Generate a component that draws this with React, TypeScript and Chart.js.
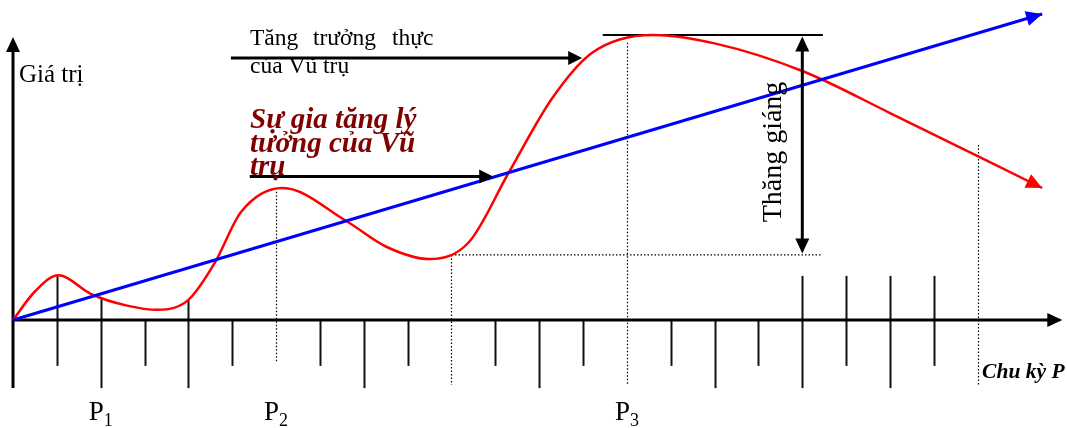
import { useEffect, useRef } from "react";
import { Chart, registerables } from "chart.js";

Chart.register(...registerables);

// Periods along the horizontal axis, one tick each.
const periods = [0, 1, 2, 3, 4, 5, 6, 7, 8, 9, 10, 11, 12, 13, 14, 15, 16, 17, 18, 19, 20, 21, 22];
const tickKinds = [
  "axis", "short", "long", "short", "long", "short", "dotted-short", "short",
  "long", "short", "dotted-long", "short", "long", "short", "dotted-long", "short",
  "long", "short", "long", "short", "long", "short", "dotted-long",
];
// Ticks that rise to the real-growth curve, and the upper cluster on the right.
const curveTicks = [1, 2, 4, 6, 14];
const upperTicks = [18, 19, 20, 21];
const upperTickValue = 14.7;
const lastGuideTop = 58.3;

// Period labels under the axis.
const periodLabels = [
  { k: 2, sub: "1" },
  { k: 6, sub: "2" },
  { k: 14, sub: "3" },
];

// Real growth of the universe (red curve).
const realPeriod = [
  0, 0.5, 1.03, 1.8, 2.6, 3.3, 4, 4.6, 5.2, 6.15, 7.6, 8.5, 9.5,
  10.4, 11.3, 12.3, 13.2, 14.6, 16, 18, 20, 23.47,
];
const realValue = [
  0, 9.5, 14.9, 8.5, 4.8, 3.4, 6.7, 19, 36, 44, 33, 24.5, 20.3,
  26, 49, 74, 89, 95, 92.2, 83, 69, 44,
];

// Ideal growth of the universe (blue line).
const idealPeriod = [0, 23.47];
const idealValue = [0, 102];

// Fluctuation band: crest of the real curve and the trough it is measured from.
const crestValue = 95;
const troughValue = 21.7;
const troughPeriod = 10;
const crestSpan = [13.45, 18.47];
const troughSpan = [10, 18.43];
const fluctuationPeriod = 18;

// Annotation arrows.
const realArrow = { from: 4.97, to: 12.98, v: 87.3 };
const idealArrow = { from: 5.4, to: 10.95, v: 47.8 };

const SERIF = '"Liberation Serif", "Times New Roman", serif';

// Value of the red curve at a period, read linearly between its points.
function curveAt(k: number): number {
  for (let i = 1; i < realPeriod.length; i++) {
    if (k <= realPeriod[i]) {
      const t = (k - realPeriod[i - 1]) / (realPeriod[i] - realPeriod[i - 1]);
      return realValue[i - 1] + t * (realValue[i] - realValue[i - 1]);
    }
  }
  return realValue[realValue.length - 1];
}

function arrowHead(ctx: CanvasRenderingContext2D, tx: number, ty: number, fx: number, fy: number, len: number, half: number, color: string) {
  const a = Math.atan2(ty - fy, tx - fx);
  ctx.save();
  ctx.fillStyle = color;
  ctx.translate(tx, ty);
  ctx.rotate(a);
  ctx.beginPath();
  ctx.moveTo(0, 0);
  ctx.lineTo(-len, -half);
  ctx.lineTo(-len, half);
  ctx.closePath();
  ctx.fill();
  ctx.restore();
}

function line(ctx: CanvasRenderingContext2D, x1: number, y1: number, x2: number, y2: number, width: number, color = "#000", dash: number[] = []) {
  ctx.save();
  ctx.strokeStyle = color;
  ctx.lineWidth = width;
  ctx.setLineDash(dash);
  ctx.beginPath();
  ctx.moveTo(x1, y1);
  ctx.lineTo(x2, y2);
  ctx.stroke();
  ctx.restore();
}

const diagramPlugin = {
  id: "diagram",
  beforeDatasetsDraw(chart: any) {
    const ctx: CanvasRenderingContext2D = chart.ctx;
    const X = (k: number) => chart.scales.x.getPixelForValue(k);
    const Y = (v: number) => chart.scales.y.getPixelForValue(v);
    const shortEnd = -15.3;
    const longEnd = -22.7;

    // Ticks
    periods.forEach((k, i) => {
      const kind = tickKinds[i];
      if (kind === "axis") return;
      const dotted = kind.startsWith("dotted");
      const long = kind.endsWith("long");
      let top = 0;
      if (curveTicks.includes(k)) top = curveAt(k);
      else if (k === troughPeriod) top = troughValue;
      else if (upperTicks.includes(k)) top = upperTickValue;
      else if (k === 22) top = lastGuideTop;
      const bottom = long ? longEnd : shortEnd;
      const x = Math.round(X(k)) + 0.5;
      if (dotted) line(ctx, x, Y(top), x, Y(bottom + 1), 1.2, "#000", [1.5, 2]);
      else line(ctx, x, Y(top), x, Y(bottom), 2, "#111");
    });

    // Trough guide
    line(ctx, X(troughSpan[0]), Y(troughValue), X(troughSpan[1]), Y(troughValue), 1.2, "#000", [1.5, 2]);
    // Crest line
    line(ctx, X(crestSpan[0]), Y(crestValue), X(crestSpan[1]), Y(crestValue), 2, "#000");

    // Axes
    const ox = X(0);
    const oy = Y(0);
    const yTop = Y(94.3);
    const xEnd = X(23.93);
    line(ctx, ox, Y(longEnd), ox, yTop + 10, 3);
    arrowHead(ctx, ox, yTop, ox, yTop + 20, 15, 7, "#000");
    line(ctx, ox, oy, xEnd - 10, oy, 3);
    arrowHead(ctx, xEnd, oy, xEnd - 20, oy, 15, 7, "#000");
  },
  afterDatasetsDraw(chart: any) {
    const ctx: CanvasRenderingContext2D = chart.ctx;
    const X = (k: number) => chart.scales.x.getPixelForValue(k);
    const Y = (v: number) => chart.scales.y.getPixelForValue(v);

    // Heads of the curve and the line
    const n = realPeriod.length;
    arrowHead(ctx, X(realPeriod[n - 1]), Y(realValue[n - 1]), X(realPeriod[n - 2]), Y(realValue[n - 2]), 16, 7.5, "#ff0000");
    arrowHead(ctx, X(idealPeriod[1]), Y(idealValue[1]), X(idealPeriod[0]), Y(idealValue[0]), 16, 7.5, "#0000ff");

    // Annotation arrows
    for (const a of [realArrow, idealArrow]) {
      line(ctx, X(a.from), Y(a.v), X(a.to) - 8, Y(a.v), 3);
      arrowHead(ctx, X(a.to), Y(a.v), X(a.from), Y(a.v), 14, 7, "#000");
    }

    // Fluctuation double arrow
    const fx = X(fluctuationPeriod);
    const fTop = Y(crestValue) + 1.5;
    const fBot = Y(troughValue) - 1.5;
    line(ctx, fx, fTop + 10, fx, fBot - 10, 3);
    arrowHead(ctx, fx, fTop, fx, fBot, 15, 7, "#000");
    arrowHead(ctx, fx, fBot, fx, fTop, 15, 7, "#000");

    // Texts
    ctx.save();
    ctx.fillStyle = "#000";
    ctx.textBaseline = "alphabetic";
    ctx.textAlign = "left";
    ctx.font = `25px ${SERIF}`;
    ctx.fillText("Giá trị", X(0.137), Y(79.3));

    ctx.font = `23.5px ${SERIF}`;
    ctx.fillText("Tăng", X(5.405), Y(91.67));
    ctx.fillText("trưởng", X(6.84), Y(91.67));
    ctx.fillText("thực", X(8.643), Y(91.67));
    ctx.fillText("của Vũ trụ", X(5.405), Y(82.33));

    ctx.fillStyle = "#800000";
    ctx.font = `italic bold 29px ${SERIF}`;
    ctx.fillText("Sự gia tăng lý", X(5.405), Y(64));
    ctx.fillText("tưởng của Vũ", X(5.405), Y(56));
    ctx.fillText("trụ", X(5.405), Y(48.33));

    ctx.fillStyle = "#000";
    ctx.font = `italic bold 21.5px ${SERIF}`;
    ctx.fillText("Chu kỳ P", X(22.1), Y(-19.33));

    // Rotated label beside the fluctuation arrow
    ctx.save();
    ctx.translate(X(17.51), Y(56));
    ctx.rotate(-Math.PI / 2);
    ctx.textAlign = "center";
    ctx.font = `28px ${SERIF}`;
    ctx.fillText("Thăng giáng", 0, 0);
    ctx.restore();

    // P₁, P₂, P₃
    for (const p of periodLabels) {
      ctx.font = `27px ${SERIF}`;
      const wP = ctx.measureText("P").width;
      ctx.font = `18px ${SERIF}`;
      const wS = ctx.measureText(p.sub).width;
      const left = X(p.k) - (wP + wS) / 2;
      ctx.font = `27px ${SERIF}`;
      ctx.fillText("P", left, Y(-33.33));
      ctx.font = `18px ${SERIF}`;
      ctx.fillText(p.sub, left + wP, Y(-35.33));
    }
    ctx.restore();
  },
};

export default function App() {
  const canvasRef = useRef<HTMLCanvasElement | null>(null);

  useEffect(() => {
    const canvas = canvasRef.current;
    if (!canvas) return;
    const chart = new Chart(canvas, {
      type: "line",
      data: {
        datasets: [
          {
            label: "Sự gia tăng lý tưởng",
            data: idealPeriod.map((k, i) => ({ x: k, y: idealValue[i] })),
            borderColor: "#0000ff",
            borderWidth: 3,
            pointRadius: 0,
            tension: 0,
          },
          {
            label: "Tăng trưởng thực",
            data: realPeriod.map((k, i) => ({ x: k, y: realValue[i] })),
            borderColor: "#ff0000",
            borderWidth: 2.5,
            pointRadius: 0,
            cubicInterpolationMode: "monotone",
          },
        ],
      },
      options: {
        animation: false,
        responsive: false,
        devicePixelRatio: 1,
        layout: { padding: 0 },
        plugins: { legend: { display: false }, tooltip: { enabled: false }, title: { display: false } },
        scales: {
          x: { type: "linear", display: false, min: -0.29647, max: 24.0365 },
          y: { type: "linear", display: false, min: -36, max: 106.667 },
        },
      },
      plugins: [diagramPlugin],
    });
    return () => chart.destroy();
  }, []);

  return (
    <div style={{ position: "absolute", left: 0, top: 0, width: 1067, height: 428, background: "#fff" }}>
      <canvas ref={canvasRef} width={1067} height={428} style={{ display: "block" }} />
    </div>
  );
}
